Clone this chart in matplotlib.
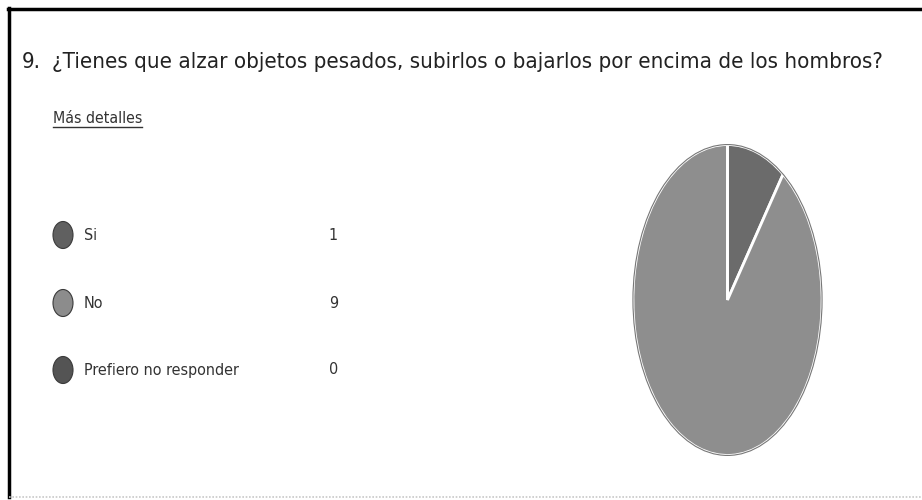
import matplotlib.pyplot as plt
from matplotlib.patches import Circle, Ellipse
from matplotlib.lines import Line2D
from matplotlib import font_manager

# data
categories = ['Si', 'No', 'Prefiero no responder']
counts = [1, 9, 0]
pie_colors = ['#6b6b6b', '#8e8e8e', '#555555']
dot_colors = ['#606060', '#8c8c8c', '#545454']
number = '9.'
title = '¿Tienes que alzar objetos pesados, subirlos o bajarlos por encima de los hombros?'
link = 'Más detalles'

W, H = 922, 500
fig = plt.figure(figsize=(W / 100, H / 100), dpi=100)
fig.patch.set_facecolor('white')


def fx(px):
    return px / W


def fy(py):
    return 1 - py / H


names = {f.name for f in font_manager.fontManager.ttflist}
if 'Liberation Sans Narrow' in names:
    font = {'family': 'Liberation Sans Narrow'}
else:
    font = {'family': 'DejaVu Sans', 'stretch': 'condensed'}


def fit(txt, width_px):
    # shrink/grow the font so the text spans width_px
    fig.canvas.draw()
    w = txt.get_window_extent().width
    txt.set_fontsize(txt.get_fontsize() * width_px / w)
    return txt.get_fontsize()


# frame: black top/left, light gray dotted bottom
fig.add_artist(Line2D([fx(8), 1], [fy(9), fy(9)], color='black', lw=2.5))
fig.add_artist(Line2D([fx(9), fx(9)], [fy(8), fy(497)], color='black', lw=2.5))
fig.add_artist(Line2D([fx(9), 1], [fy(497), fy(497)], color='#c8c8c8', lw=1.2, ls=(0, (1, 1))))

t = fig.text(fx(52), fy(68), title, fontsize=18, color='#222222', va='baseline', **font)
ts = fit(t, 826)
fig.text(fx(22), fy(68), number, fontsize=ts, color='#222222', va='baseline', **font)

t = fig.text(fx(53), fy(123), link, fontsize=12, color='#333333', va='baseline', **font)
fit(t, 89)
fig.canvas.draw()
bb = t.get_window_extent()
fig.add_artist(Line2D([bb.x0 / W, bb.x1 / W], [fy(127), fy(127)], color='#333333', lw=1))

# legend rows
rows_y = [235, 303, 370]
probe = fig.text(0, 0, categories[2], fontsize=12, **font)
ls = fit(probe, 156)
probe.remove()
for name, val, c, y in zip(categories, counts, dot_colors, rows_y):
    fig.add_artist(Ellipse((fx(63), fy(y)), fx(20), 27 / H, transform=fig.transFigure,
                           facecolor=c, edgecolor='#3a3a3a', lw=0.8))
    fig.text(fx(84), fy(y), name, fontsize=ls, color='#333333', va='center', **font)
    fig.text(fx(338), fy(y), str(val), fontsize=ls, color='#333333', va='center', ha='right', **font)

# pie, stretched into an ellipse like the reference
ax = fig.add_axes([fx(632), fy(457), fx(823) - fx(632), (457 - 143) / H])
ax.pie(counts, colors=pie_colors, startangle=90, counterclock=False,
       wedgeprops={'edgecolor': 'white', 'linewidth': 2})
ax.add_patch(Circle((0, 0), 1.0, fill=False, edgecolor='#777777', lw=0.8))
ax.set_aspect('auto')
ax.set_xlim(-1.01, 1.01)
ax.set_ylim(-1.01, 1.01)
ax.axis('off')

fig.savefig('out.png', dpi=100)
